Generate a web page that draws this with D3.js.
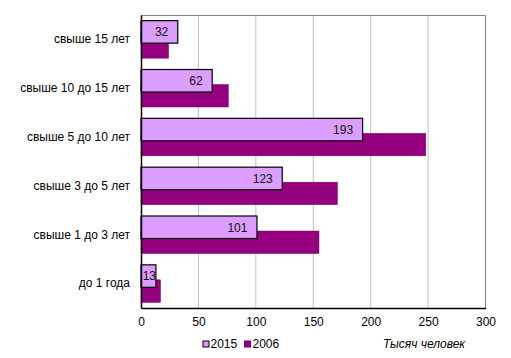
<!DOCTYPE html>
<html><head><meta charset="utf-8">
<script src="https://cdn.jsdelivr.net/npm/d3@7/dist/d3.min.js"></script>
<style>
html,body{margin:0;padding:0;background:#fff;}
svg{display:block;font-family:"Liberation Sans",Arial,sans-serif;}
</style></head>
<body>
<script>
const categories = ["свыше 15 лет","свыше 10 до 15 лет","свыше 5 до 10 лет","свыше 3 до 5 лет","свыше 1 до 3 лет","до 1 года"];
const values2015 = [32, 62, 193, 123, 101, 13];
const values2006 = [24, 76, 248, 171, 155, 17];
const seriesNames = ["2015", "2006"];
const xTicks = [0, 50, 100, 150, 200, 250, 300];
const axisTitle = "Тысяч человек";

const W = 511, H = 358;
const svg = d3.select("body").append("svg").attr("width", W).attr("height", H);

const x = d3.scaleLinear().domain([0, 300]).range([141, 485.5]);
const y = d3.scaleBand().domain(categories).range([15, 308]).paddingInner(0).paddingOuter(0);
const step = y.bandwidth();
const barH = 22.5, overlap = 7.5;
const outer = (step - (2 * barH - overlap)) / 2;

// gridlines
svg.append("g").selectAll("line").data(xTicks.filter(t => t > 0 && t < 300)).join("line")
  .attr("x1", d => x(d)).attr("x2", d => x(d))
  .attr("y1", 15).attr("y2", 308)
  .attr("stroke", "#c0c0c0").attr("stroke-width", 1);

// plot border top/right
svg.append("path")
  .attr("d", `M${x(0)},15.5H${x(300)}V308`)
  .attr("fill", "none").attr("stroke", "#808080").attr("stroke-width", 1);

const rows = svg.append("g").selectAll("g").data(categories).join("g");

// 2006 bars (below)
rows.append("rect")
  .attr("x", x(0))
  .attr("y", (d) => y(d) + outer + barH - overlap)
  .attr("width", (d, i) => x(values2006[i]) - x(0))
  .attr("height", barH)
  .attr("fill", "#94007e")
  .attr("stroke", "#7a0068").attr("stroke-width", 0.5);

// 2015 bars (on top)
rows.append("rect")
  .attr("x", x(0))
  .attr("y", (d) => y(d) + outer)
  .attr("width", (d, i) => x(values2015[i]) - x(0))
  .attr("height", barH)
  .attr("fill", "#dc9eff")
  .attr("stroke", "#000").attr("stroke-width", 1.2);

// data labels
rows.append("text")
  .attr("x", (d, i) => Math.max(x(values2015[i]) - 9.5, x(0) + 15))
  .attr("y", (d) => y(d) + outer + barH / 2)
  .attr("dy", "0.36em")
  .attr("text-anchor", "end")
  .attr("font-size", 12).attr("fill", "#111")
  .text((d, i) => values2015[i]);

// axes
const xAxis = d3.axisBottom(x).tickValues(xTicks).tickSize(0).tickPadding(9);
const gx = svg.append("g").attr("transform", "translate(0,308)").call(xAxis);
gx.select(".domain").attr("stroke", "#000").attr("stroke-width", 1.5);
gx.selectAll("text").attr("font-size", 12).attr("fill", "#000")
  .attr("font-family", "Liberation Sans, Arial, sans-serif");

const yAxis = d3.axisLeft(y).tickSize(0).tickPadding(11);
const gy = svg.append("g").attr("transform", `translate(${x(0)},0)`).call(yAxis);
gy.select(".domain").attr("stroke", "#000").attr("stroke-width", 1.5);
gy.selectAll("text").attr("font-size", 12).attr("fill", "#000")
  .attr("font-family", "Liberation Sans, Arial, sans-serif");

// legend
const legend = svg.append("g");
const legItems = [
  {name: seriesNames[0], fill: "#dc9eff", stroke: "#000", sx: 203, tx: 210.5},
  {name: seriesNames[1], fill: "#94007e", stroke: "#7a0068", sx: 244.5, tx: 252.5}
];
legItems.forEach(it => {
  legend.append("rect").attr("x", it.sx).attr("y", 341).attr("width", 6).attr("height", 6)
    .attr("fill", it.fill).attr("stroke", it.stroke).attr("stroke-width", 1);
  legend.append("text").attr("x", it.tx).attr("y", 348).attr("font-size", 12).attr("fill", "#000").text(it.name);
});

svg.append("text").attr("x", 383).attr("y", 348)
  .attr("font-size", 12).attr("font-style", "italic").attr("fill", "#000")
  .text(axisTitle);
</script>
</body></html>
